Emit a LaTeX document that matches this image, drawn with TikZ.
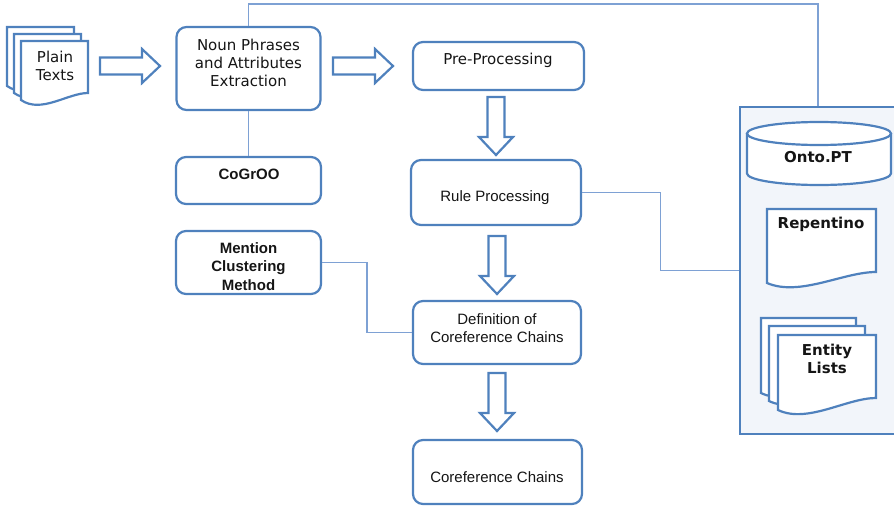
\documentclass[tikz,border=0pt]{standalone}
\usepackage{fontspec}
\setmainfont{DejaVu Sans}
\newfontfamily\lib{Liberation Sans}
\usetikzlibrary{calc}
\definecolor{boxblue}{HTML}{4F81BD}
\definecolor{lineblue}{HTML}{7EA1D4}
\definecolor{contfill}{HTML}{F2F5FA}
\definecolor{textc}{HTML}{151515}
\newcommand\mydoc[5]{% L T R yL yR
  \pgfmathsetmacro\dw{#3-#1}
  \draw[docst] (#1,#2) -- (#3,#2) -- (#3,#5)
    .. controls ({#3-0.3*\dw},#5) and ({#1+0.3*\dw},{#4+14}) .. (#1,#4) -- cycle;}
\begin{document}
\begin{tikzpicture}[x=1pt,y=-1pt,
  boxc/.style={draw=boxblue, line width=2.2pt, rounded corners=10pt, fill=white, inner sep=0pt},
  conn/.style={draw=lineblue, line width=1.1pt},
  blk/.style={draw=boxblue, line width=2.2pt, fill=white, line join=miter},
  docst/.style={draw=boxblue, line width=2.2pt, fill=white, line join=miter},
  txt/.style={inner sep=0pt, text=textc, font=\fontsize{15}{18.3}\selectfont},
  one/.style={txt, text height=11pt, text depth=0pt},
  multi/.style={txt, align=center},
  rarr/.pic={\draw[blk] (0,-8.5) -- (42,-8.5) -- (42,-17) -- (60,0) -- (42,17) -- (42,8.5) -- (0,8.5) -- cycle;},
  darr/.pic={\draw[blk] (-8.5,0) -- (-8.5,40) -- (-17,40) -- (0,58) -- (17,40) -- (8.5,40) -- (8.5,0) -- cycle;}
]
\useasboundingbox (0,0) rectangle (894,506);

% container
\node[draw=boxblue, line width=2.2pt, fill=contfill, inner sep=0pt,
      minimum width=156pt, minimum height=327pt] (cont) at (818,270.5) {};

% boxes
\node[boxc, minimum width=144pt, minimum height=83pt] (noun) at (248.5,68.5) {};
\node[boxc, minimum width=171pt, minimum height=48pt] (pre) at (498.5,66) {};
\node[boxc, minimum width=170pt, minimum height=65pt] (rule) at (496,192.5) {};
\node[boxc, minimum width=145pt, minimum height=47pt] (cogroo) at (248.5,180.5) {};
\node[boxc, minimum width=145pt, minimum height=63pt] (mention) at (248.5,262.5) {};
\node[boxc, minimum width=168pt, minimum height=63pt] (def) at (497,332.5) {};
\node[boxc, minimum width=169pt, minimum height=64pt] (coref) at (497.5,472) {};

% connectors
\draw[conn] (noun.north) -- (noun.north |- 0,4) -| (cont.north);
\draw[conn] (noun.south) -- (cogroo.north);
\draw[conn] (rule.east) -| ($(rule.east)!.5!(cont.west)$) |- (cont.west);
\draw[conn] (mention.east) -| ($(mention.east)!.5!(def.west)$) |- (def.west);

% block arrows
\pic at (100,66) {rarr};
\pic at (333,66) {rarr};
\pic at (496,97) {darr};
\pic at (497,236) {darr};
\pic at (497,373) {darr};

% plain texts stack
\mydoc{7}{27}{74}{86}{79}
\mydoc{14}{34}{81}{93}{86}
\mydoc{21}{41}{88}{100}{93}
\node[multi] (plaint) at (55,66) {Plain\\Texts};

% Onto.PT cylinder
\fill[white] (747,133.5) -- (747,173.5) arc[start angle=180, end angle=0, x radius=72, y radius=11.5]
  -- (891,133.5) arc[start angle=0, end angle=-180, x radius=72, y radius=11.5] -- cycle;
\draw[boxblue, line width=2.2pt] (747,133.5) -- (747,173.5) arc[start angle=180, end angle=0, x radius=72, y radius=11.5] -- (891,133.5);
\draw[boxblue, line width=2.2pt] (819,133.5) ellipse [x radius=72, y radius=11.5];
\node[one, font=\fontsize{15}{18.3}\selectfont\bfseries] (onto) at (818,157) {Onto.PT};

% Repentino
\mydoc{767}{209}{876}{283}{272}
\node[one, font=\fontsize{15}{18.3}\selectfont\bfseries] (rep) at (821,223) {Repentino};

% Entity lists
\mydoc{761}{318}{856}{393}{381}
\mydoc{769}{326}{865}{401}{389}
\mydoc{778}{335}{876}{410}{398}
\node[multi, font=\fontsize{15}{18.3}\selectfont\bfseries] (ent) at (827,359) {Entity\\Lists};

% texts
\node[multi] (nount) at (248.5,63) {Noun Phrases\\and Attributes\\Extraction};
\node[one] (pret) at (498,59) {Pre-Processing};
\node[one, font=\fontsize{15}{18.3}\selectfont\lib] (rulet) at (495,196) {Rule Processing};
\node[multi, font=\fontsize{15}{18.3}\selectfont\lib] (deft) at (497,328) {Definition of\\Coreference Chains};
\node[one, font=\fontsize{15}{18.3}\selectfont\lib] (coreft) at (497,477) {Coreference Chains};
\node[one, font=\fontsize{15}{18.3}\selectfont\lib\bfseries] (cogroot) at (249,174) {CoGrOO};
\node[multi, font=\fontsize{15}{18.3}\selectfont\lib\bfseries] (mentiont) at (248.5,266.5) {Mention\\Clustering\\Method};
\end{tikzpicture}
\end{document}
